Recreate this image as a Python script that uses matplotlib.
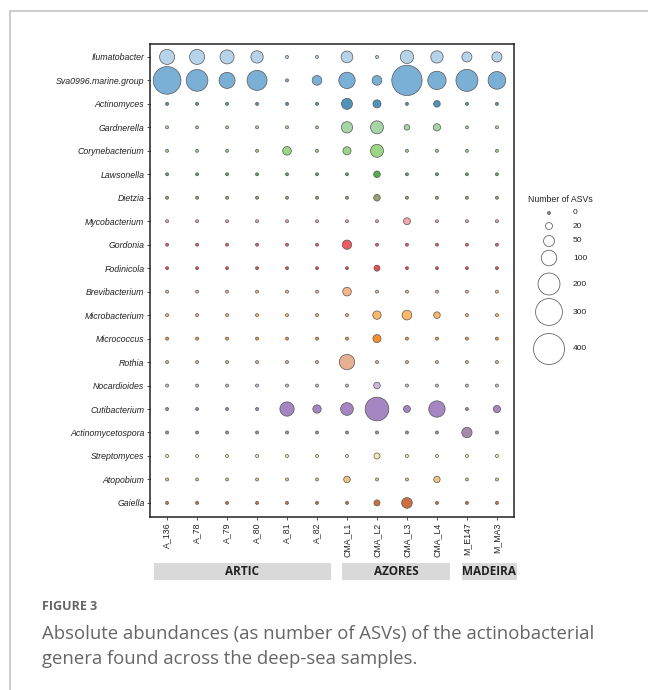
import numpy as np
import matplotlib
matplotlib.use("Agg")
import matplotlib.pyplot as plt

# Data
genera = ["Ilumatobacter", "Sva0996.marine.group", "Actinomyces", "Gardnerella",
          "Corynebacterium", "Lawsonella", "Dietzia", "Mycobacterium", "Gordonia",
          "Fodinicola", "Brevibacterium", "Microbacterium", "Micrococcus", "Rothia",
          "Nocardioides", "Cutibacterium", "Actinomycetospora", "Streptomyces",
          "Atopobium", "Gaiella"]
samples = ["A_136", "A_78", "A_79", "A_80", "A_81", "A_82",
           "CMA_L1", "CMA_L2", "CMA_L3", "CMA_L4", "M_E147", "M_MA3"]

ilumatobacter     = [94, 94, 82, 63, 0, 0, 57, 0, 74, 63, 42, 42]
sva0996           = [319, 196, 107, 166, 0, 39, 111, 39, 382, 140, 201, 130]
actinomyces       = [0, 0, 0, 0, 0, 0, 50, 27, 0, 18, 0, 0]
gardnerella       = [0, 0, 0, 0, 0, 0, 53, 70, 13, 22, 0, 0]
corynebacterium   = [0, 0, 0, 0, 31, 0, 27, 70, 0, 0, 0, 0]
lawsonella        = [0, 0, 0, 0, 0, 0, 0, 18, 0, 0, 0, 0]
dietzia           = [0, 0, 0, 0, 0, 0, 0, 18, 0, 0, 0, 0]
mycobacterium     = [0, 0, 0, 0, 0, 0, 0, 0, 20, 0, 0, 0]
gordonia          = [0, 0, 0, 0, 0, 0, 36, 0, 0, 0, 0, 0]
fodinicola        = [0, 0, 0, 0, 0, 0, 0, 15, 0, 0, 0, 0]
brevibacterium    = [0, 0, 0, 0, 0, 0, 31, 0, 0, 0, 0, 0]
microbacterium    = [0, 0, 0, 0, 0, 0, 0, 29, 39, 18, 0, 0]
micrococcus       = [0, 0, 0, 0, 0, 0, 0, 27, 0, 0, 0, 0]
rothia            = [0, 0, 0, 0, 0, 0, 98, 0, 0, 0, 0, 0]
nocardioides      = [0, 0, 0, 0, 0, 0, 0, 18, 0, 0, 0, 0]
cutibacterium     = [0, 0, 0, 0, 85, 29, 67, 233, 20, 111, 0, 22]
actinomycetospora = [0, 0, 0, 0, 0, 0, 0, 0, 0, 0, 44, 0]
streptomyces      = [0, 0, 0, 0, 0, 0, 0, 15, 0, 0, 0, 0]
atopobium         = [0, 0, 0, 0, 0, 0, 18, 0, 0, 17, 0, 0]
gaiella           = [0, 0, 0, 0, 0, 0, 0, 15, 47, 0, 0, 0]

values = [ilumatobacter, sva0996, actinomyces, gardnerella, corynebacterium,
          lawsonella, dietzia, mycobacterium, gordonia, fodinicola, brevibacterium,
          microbacterium, micrococcus, rothia, nocardioides, cutibacterium,
          actinomycetospora, streptomyces, atopobium, gaiella]

colors = ["#b7d3ea", "#7ab0d6", "#4f93bd", "#a6d5a6", "#9bd686", "#4fae4c",
          "#98a070", "#f4a5ab", "#ee5a60", "#e85050", "#f8b58c", "#fdb868",
          "#f98f2c", "#e8b092", "#cfb8de", "#a585c2", "#a68aa9", "#f5eeaa",
          "#ecc680", "#cc703e"]

groups = ["ARTIC", "AZORES", "MADEIRA"]
group_sizes = [6, 4, 2]

legend_values = [0, 20, 50, 100, 200, 300, 400]

DPI = 100


def marker_size(v):
    # diameter in px grows with sqrt of the count, small dot for zero
    d_px = np.maximum(1.55 * np.sqrt(np.asarray(v, dtype=float)), 3.0)
    return (d_px * 72.0 / DPI) ** 2


fig = plt.figure(figsize=(6.48, 6.9), dpi=DPI)
W, H = 648, 690

# Main bubble plot
ax = fig.add_axes([150 / W, 1 - 517 / H, 364 / W, 473 / H])
xs = np.arange(len(samples))
for i, (g, vals, c) in enumerate(zip(genera, values, colors)):
    ax.scatter(xs, np.full(len(xs), i), s=marker_size(vals), color=c,
               edgecolors="#555555", linewidths=0.5, zorder=3)

ax.set_xlim(-0.57, len(samples) - 0.43)
ax.set_ylim(len(genera) - 0.4, -0.55)
ax.set_xticks(xs)
ax.set_xticklabels(samples, rotation=90, fontsize=6.3, family="Liberation Sans",
                   color="#222222")
ax.set_yticks(np.arange(len(genera)))
ax.set_yticklabels(genera, fontsize=6.3, family="Liberation Sans", style="italic",
                   color="#222222")
ax.tick_params(length=2.5, width=0.6, color="#333333", pad=1.5)
for sp in ax.spines.values():
    sp.set_linewidth(1.1)
    sp.set_color("#222222")

# Group strips
axg = fig.add_axes([150 / W, 1 - 580 / H, 364 / W, 17 / H])
axg.set_xlim(ax.get_xlim())
axg.set_ylim(0, 1)
axg.axis("off")
start = 0
for name, n in zip(groups, group_sizes):
    left = start - 0.43 if start == 0 else start - 0.17
    right = start + n - 1 + 0.45
    if start + n == len(samples):
        right = start + n - 1 + 0.67
    axg.bar((left + right) / 2, 1, width=right - left, bottom=0, color="#d9d9d9",
            clip_on=False)
    axg.text((left + right) / 2, 0.5, name, ha="center", va="center",
             fontsize=8.5, fontweight="bold", family="Open Sans", color="#222222")
    start += n

# Overlay for legend, caption and frame (pixel coordinates)
ov = fig.add_axes([0, 0, 1, 1], zorder=-1)
ov.set_xlim(0, W)
ov.set_ylim(H, 0)
ov.axis("off")
ov.plot([10, 10, W + 5], [H + 5, 11, 11], color="#c8c8c8", lw=1.3,
        solid_joinstyle="miter")

leg_y = [213, 226, 241, 258, 284, 312, 349]
ov.text(528, 200, "Number of ASVs", fontsize=6.3, family="Liberation Sans",
        color="#222222", va="center")
ov.scatter(np.full(len(legend_values), 549), leg_y, s=marker_size(legend_values),
           facecolors=["#888888"] + ["white"] * (len(legend_values) - 1),
           edgecolors="#666666", linewidths=0.6)
for v, y in zip(legend_values, leg_y):
    ov.text(573, y, str(v), fontsize=6, family="Liberation Sans",
            color="#222222", va="center")

ov.text(42, 606, "FIGURE 3", fontsize=9, fontweight="bold", family="Open Sans",
        color="#666666", va="center")
ov.text(42, 634, "Absolute abundances (as number of ASVs) of the actinobacterial",
        fontsize=13.3, family="Open Sans", color="#666666", va="center")
ov.text(42, 659, "genera found across the deep-sea samples.",
        fontsize=13.3, family="Open Sans", color="#666666", va="center")

fig.savefig("out.png", dpi=DPI)
